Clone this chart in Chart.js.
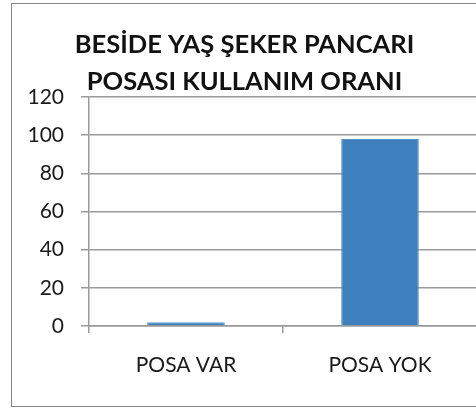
<!DOCTYPE html>
<html>
<head>
<meta charset="utf-8">
<script src="https://cdn.jsdelivr.net/npm/chart.js@4"></script>
<style>
  html, body { margin: 0; padding: 0; background: #fff; overflow: hidden; width: 476px; height: 408px; }
  #frame { position: absolute; left: 11px; top: 3px; width: 472px; height: 404px; box-sizing: border-box; border: 1px solid #858585; }
  #wrap { position: absolute; left: 0; top: 0; width: 470px; height: 402px; }
</style>
</head>
<body>
<div id="frame"><div id="wrap"><canvas id="c" width="470" height="402"></canvas></div></div>
<script>
const titleLines = ['BESİDE YAŞ ŞEKER PANCARI', 'POSASI KULLANIM ORANI'];
const categories = ['POSA VAR', 'POSA YOK'];
const values = [2, 98];
const yTicks = [0, 20, 40, 60, 80, 100, 120];

const gridColor = '#9a9a9a';
new Chart(document.getElementById('c'), {
  type: 'bar',
  data: {
    labels: categories,
    datasets: [{
      data: values,
      backgroundColor: '#3e80be',
      borderColor: '#5a93c9',
      borderWidth: 1,
      barPercentage: 0.4,
      categoryPercentage: 1
    }]
  },
  options: {
    responsive: false,
    animation: false,
    devicePixelRatio: 1,
    layout: { padding: { left: 0, right: 5, top: 0, bottom: 0 } },
    plugins: {
      legend: { display: false },
      tooltip: { enabled: false },
      title: {
        display: true,
        text: titleLines,
        color: '#111',
        font: { family: 'Lato', size: 25.5, weight: 'bold', lineHeight: 1.47 },
        padding: { top: 22, bottom: -4 }
      }
    },
    scales: {
      x: {
        grid: { offset: true, drawOnChartArea: false, color: gridColor, lineWidth: 1.5, tickLength: 7 },
        border: { color: gridColor, width: 1.5 },
        ticks: { color: '#1a1a1a', font: { family: 'Lato', size: 21 }, padding: 20, maxRotation: 0 },
        afterFit: s => { s.height = 80; }
      },
      y: {
        min: 0, max: 120,
        afterBuildTicks: s => { s.ticks = yTicks.map(v => ({ value: v })); },
        grid: { color: gridColor, lineWidth: 1.5, tickLength: 8 },
        border: { color: gridColor, width: 1.5 },
        ticks: { color: '#1a1a1a', font: { family: 'Lato', size: 21 }, padding: 17 },
        afterFit: s => { s.width = 77; }
      }
    }
  }
});
</script>
</body>
</html>
